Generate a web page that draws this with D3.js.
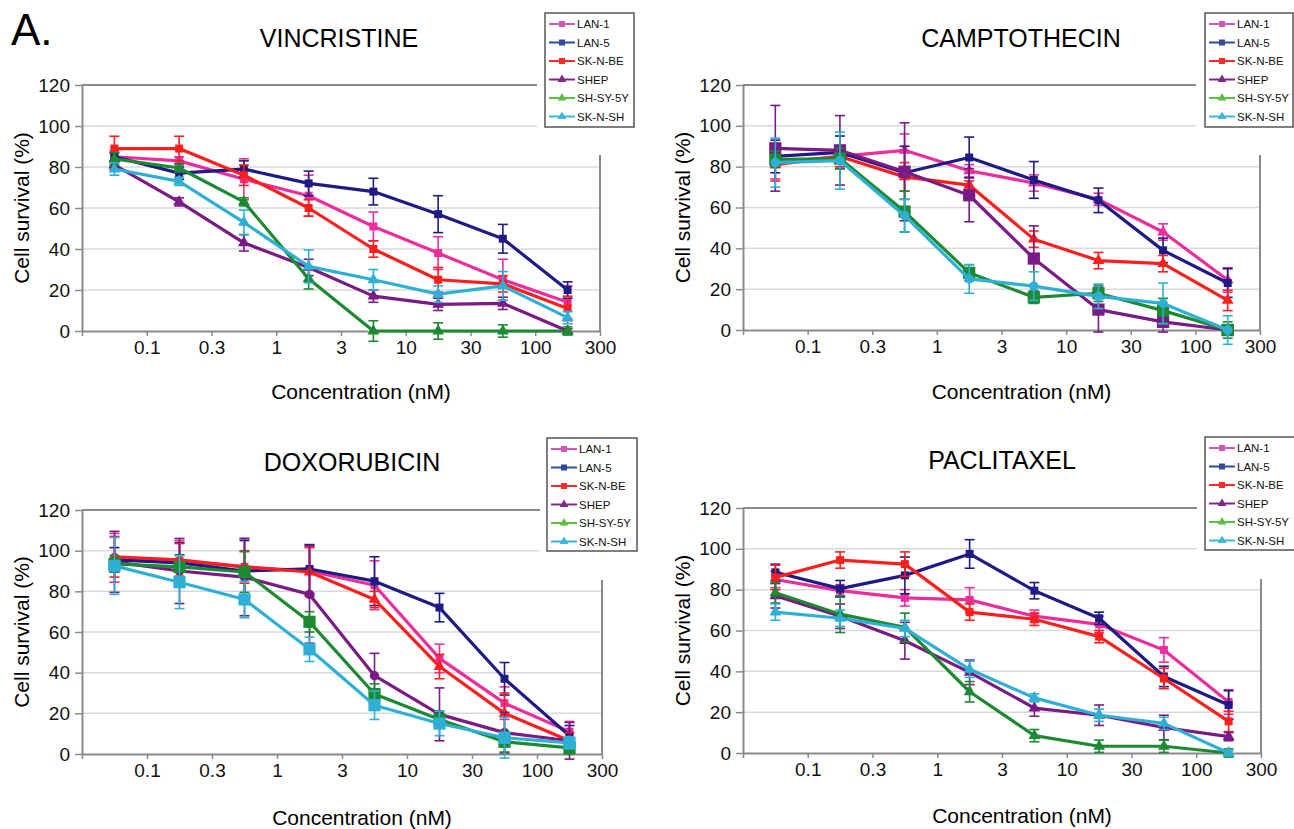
<!DOCTYPE html>
<html>
<head>
<meta charset="utf-8">
<script src="https://cdn.jsdelivr.net/npm/d3@7"></script>
<style>
  body { margin: 0; background: #fff; }
  svg { display: block; font-family: "Liberation Sans", Arial, sans-serif; }
</style>
</head>
<body>
<div id="chart"></div>
<script>
// ---- data ----
const cellLines = ["LAN-1", "LAN-5", "SK-N-BE", "SHEP", "SH-SY-5Y", "SK-N-SH"];
const concentrations = ["0.05", "0.17", "0.5", "1.7", "5", "17", "50", "170"]; // nM, one per point
const xTickLabels = ["0.1", "0.3", "1", "3", "10", "30", "100", "300"];
const yTicks = [0, 20, 40, 60, 80, 100, 120];
const drugs = ["VINCRISTINE", "CAMPTOTHECIN", "DOXORUBICIN", "PACLITAXEL"];

// mean survival (%), one row per cell line
const vincristineMean = [
  [85, 83, 74, 66, 51, 38, 25, 14],
  [85, 77, 79, 72, 68, 57, 45, 20],
  [89, 89, 76, 60, 40, 25, 23, 11],
  [81, 63, 43, 31, 17, 13, 13.5, 0],
  [84, 79.5, 63, 25.5, 0, 0, 0, 0],
  [79, 73, 53, 31.5, 25, 18, 22, 6.5]
];
const vincristineErr = [
  [3, 2, 10, 10, 7, 8, 10, 8],
  [2, 3, 4, 6, 6.5, 9, 7, 4],
  [6, 6, 5, 4, 4, 6, 4, 6],
  [2, 2, 4, 4, 3, 3, 3, 1],
  [3, 2, 2, 5, 5, 4, 3, 2],
  [3, 2, 6, 8, 5, 4, 7, 3]
];
const camptothecinMean = [
  [82, 85, 88, 78, 72, 64, 48, 24.5],
  [85, 87, 77, 84.5, 73.5, 63.5, 39, 23],
  [81, 85, 75, 71, 44.5, 34, 32.5, 14.5],
  [89, 88, 77.5, 66, 35, 10, 4, 0],
  [83.5, 84, 58, 28, 16, 18, 9.5, 0],
  [82, 83, 56, 25, 21.5, 16.5, 13, 0]
];
const camptothecinErr = [
  [8, 5, 8, 3, 4, 3, 4, 6],
  [8, 8, 13, 10, 9, 6, 6, 7],
  [8, 5, 7, 2, 4, 4, 4, 5],
  [21, 17, 24, 13, 16, 11, 5, 1],
  [4, 5, 10, 4, 3, 4, 6, 4],
  [12, 14, 8, 7, 7, 6, 10, 7]
];
const doxorubicinMean = [
  [96.5, 95, 92, 90, 83, 47, 25, 11],
  [95.5, 94, 90, 91, 85, 72, 37, 9],
  [97, 95.5, 92, 89.5, 76, 43, 20, 6.5],
  [94.5, 90, 87, 78.5, 38.5, 19.5, 10.5, 6.5],
  [93.5, 92, 89.5, 65, 29.5, 17, 6, 3],
  [92.5, 84.5, 76, 51.5, 24, 15, 8, 5.5]
];
const doxorubicinErr = [
  [12, 10, 14, 12, 12, 7, 8, 5],
  [6, 10, 15, 12, 12, 7, 8, 5],
  [10, 8, 8, 12, 4, 6, 10, 4],
  [15, 16, 19, 24, 11, 13, 10, 9],
  [4, 6, 10, 5, 5, 4, 5, 3],
  [14, 13, 9, 6, 7, 6, 10, 3]
];
const paclitaxelMean = [
  [85, 79.5, 76, 75, 67, 63, 50.5, 25],
  [88.5, 80.5, 87, 97.5, 79.5, 66, 37.5, 23.5],
  [86, 94.5, 92.5, 69, 65.5, 57, 36.5, 15.5],
  [77, 67, 55, 39.5, 22, 18.5, 12.5, 8],
  [78.5, 68, 61.5, 30, 8.5, 3.3, 3.3, 0],
  [69, 66, 61, 41, 27, 18.5, 14.5, 0]
];
const paclitaxelErr = [
  [4, 3, 4, 6, 3, 4, 6, 6],
  [4, 4, 9, 7, 4, 3, 5, 7],
  [6, 4, 6, 4, 3, 3, 5, 5],
  [6, 6, 9, 6, 4, 5, 6, 2],
  [5, 9, 7, 5, 3, 3, 3, 2],
  [4, 4, 4, 4, 2, 3, 3, 1]
];

// ---- styling ----
const lineColors = ["#ec2d9c", "#1f1a86", "#ff1e1e", "#7a1a84", "#1c8a30", "#2eb0d6"];
const legendColors = ["#cf56b4", "#2f4c9c", "#ff2b2b", "#7d2a8b", "#5cbf40", "#3ab8dc"];
const legendShapes = ["square", "square", "square", "triangle", "triangle", "triangle"];

const panels = [
  { mean: vincristineMean, err: vincristineErr,
    left: 82, right: 600, top: 85, bottom: 331, titleX: 339, titleY: 47,
    legX: 545, legY: 13, legW: 89, legH: 114, topEnd: 537, rightStart: 155, xLabY: 399,
    shapes: ["square", "square", "square", "triangle", "triangle", "triangle"],
    big: [0, 0, 0, 0, 0, 0] },
  { mean: camptothecinMean, err: camptothecinErr,
    left: 743, right: 1260, top: 85, bottom: 330, titleX: 1021, titleY: 47,
    legX: 1205, legY: 13, legW: 88, legH: 114, topEnd: 1196, rightStart: 155, xLabY: 399,
    shapes: ["triangle", "square", "triangle", "square", "square", "circle"],
    big: [0, 0, 0, 1, 1, 0] },
  { mean: doxorubicinMean, err: doxorubicinErr,
    left: 82, right: 602, top: 510, bottom: 754, titleX: 352, titleY: 471,
    legX: 547, legY: 438, legW: 90, legH: 113, topEnd: 540, rightStart: 580, xLabY: 825,
    shapes: ["square", "square", "triangle", "circle", "square", "square"],
    big: [0, 0, 0, 0, 1, 1] },
  { mean: paclitaxelMean, err: paclitaxelErr,
    left: 743, right: 1261, top: 508, bottom: 753, titleX: 1002, titleY: 469,
    legX: 1205, legY: 437, legW: 95, legH: 113, topEnd: 1197, rightStart: 579, xLabY: 823,
    shapes: ["square", "square", "square", "triangle", "triangle", "triangle"],
    big: [0, 0, 0, 0, 0, 0] }
];

const svg = d3.select("#chart").append("svg")
  .attr("width", 1294)
  .attr("height", 829);

svg.append("text")
  .attr("x", 11).attr("y", 45)
  .attr("font-size", 44)
  .text("A.");

function symbolPath(shape, big) {
  const type = shape === "square" ? d3.symbolSquare
    : shape === "circle" ? d3.symbolCircle : d3.symbolTriangle;
  let size = shape === "square" ? 64 : shape === "circle" ? 70 : 60;
  if (big) size = 150;
  return d3.symbol().type(type).size(size)();
}

panels.forEach((p, k) => {
  const g = svg.append("g");

  const x = d3.scaleLinear().domain([0, concentrations.length]).range([p.left, p.right]);
  const y = d3.scaleLinear().domain([0, 120]).range([p.bottom, p.top]);

  // gridlines (the ones behind the legend stop short)
  g.append("g").selectAll("line")
    .data(yTicks.filter(v => v > 0 && v < 120))
    .join("line")
      .attr("x1", p.left)
      .attr("x2", v => y(v) < p.rightStart ? p.topEnd : p.right)
      .attr("y1", v => y(v)).attr("y2", v => y(v))
      .attr("stroke", "#d9d9d9")
      .attr("stroke-width", 1.5);

  // frame top and right
  g.append("line")
    .attr("x1", p.left).attr("x2", p.topEnd)
    .attr("y1", y(120)).attr("y2", y(120))
    .attr("stroke", "#8a8a8a").attr("stroke-width", 2);
  g.append("line")
    .attr("x1", p.right).attr("x2", p.right)
    .attr("y1", p.rightStart).attr("y2", y(0))
    .attr("stroke", "#8a8a8a").attr("stroke-width", 2);

  // axes
  const yAxis = g.append("g")
    .attr("transform", `translate(${p.left},0)`)
    .call(d3.axisLeft(y).tickValues(yTicks).tickSize(7).tickSizeOuter(0).tickPadding(5));
  const xAxis = g.append("g")
    .attr("transform", `translate(0,${y(0)})`)
    .call(d3.axisBottom(x).tickValues(d3.range(0, concentrations.length + 1))
      .tickFormat(i => i === 0 ? "" : xTickLabels[i - 1])
      .tickSize(5).tickSizeOuter(0).tickPadding(5));
  [yAxis, xAxis].forEach(a => {
    a.select(".domain").attr("stroke", "#8a8a8a").attr("stroke-width", 2);
    a.selectAll(".tick line").attr("stroke", "#8a8a8a").attr("stroke-width", 1.5);
    a.selectAll(".tick text").attr("font-size", 19).attr("fill", "#111")
      .attr("font-family", "Liberation Sans, Arial, sans-serif");
  });

  // titles
  g.append("text")
    .attr("x", p.titleX).attr("y", p.titleY)
    .attr("text-anchor", "middle")
    .attr("font-size", 25)
    .text(drugs[k]);
  g.append("text")
    .attr("x", (p.left + p.right) / 2 + 20).attr("y", p.xLabY)
    .attr("text-anchor", "middle")
    .attr("font-size", 21)
    .text("Concentration (nM)");
  g.append("text")
    .attr("transform", `translate(${p.left - 53},${(p.top + p.bottom) / 2}) rotate(-90)`)
    .attr("text-anchor", "middle")
    .attr("font-size", 21)
    .text("Cell survival (%)");

  // series
  const line = d3.line()
    .x((d, i) => x(i + 0.5))
    .y(d => y(d));

  p.mean.forEach((vals, s) => {
    const col = lineColors[s];
    const sg = g.append("g");
    const pts = vals.map((v, i) => ({ i, v, e: p.err[s][i] }));

    // error bars
    const eb = sg.append("g").selectAll("g").data(pts).join("g")
      .attr("stroke", col).attr("stroke-width", 1.6);
    eb.append("line")
      .attr("x1", d => x(d.i + 0.5)).attr("x2", d => x(d.i + 0.5))
      .attr("y1", d => y(d.v - d.e)).attr("y2", d => y(d.v + d.e));
    eb.append("line")
      .attr("x1", d => x(d.i + 0.5) - 5).attr("x2", d => x(d.i + 0.5) + 5)
      .attr("y1", d => y(d.v + d.e)).attr("y2", d => y(d.v + d.e));
    eb.append("line")
      .attr("x1", d => x(d.i + 0.5) - 5).attr("x2", d => x(d.i + 0.5) + 5)
      .attr("y1", d => y(d.v - d.e)).attr("y2", d => y(d.v - d.e));

    sg.append("path")
      .datum(vals)
      .attr("d", line)
      .attr("fill", "none")
      .attr("stroke", col)
      .attr("stroke-width", 3.2)
      .attr("stroke-linejoin", "round");

    sg.append("g").selectAll("path").data(pts).join("path")
      .attr("transform", d => `translate(${x(d.i + 0.5)},${y(d.v)})`)
      .attr("d", symbolPath(p.shapes[s], p.big[s]))
      .attr("fill", col);
  });

  // legend
  const lg = g.append("g").attr("transform", `translate(${p.legX},${p.legY})`);
  lg.append("rect")
    .attr("width", p.legW).attr("height", p.legH)
    .attr("fill", "#fff").attr("stroke", "#555").attr("stroke-width", 1.5);
  const row = lg.selectAll("g.row").data(cellLines).join("g")
    .attr("class", "row")
    .attr("transform", (d, i) => `translate(0,${11 + i * 18.5})`);
  row.append("line")
    .attr("x1", 4).attr("x2", 30)
    .attr("stroke", (d, i) => legendColors[i]).attr("stroke-width", 2);
  row.append("path")
    .attr("transform", "translate(17,0)")
    .attr("d", (d, i) => d3.symbol()
      .type(legendShapes[i] === "square" ? d3.symbolSquare : d3.symbolTriangle)
      .size(legendShapes[i] === "square" ? 36 : 34)())
    .attr("fill", (d, i) => legendColors[i]);
  row.append("text")
    .attr("x", 32).attr("dy", "0.36em")
    .attr("font-size", 11.5)
    .attr("fill", "#111")
    .text(d => d);
});
</script>
</body>
</html>
